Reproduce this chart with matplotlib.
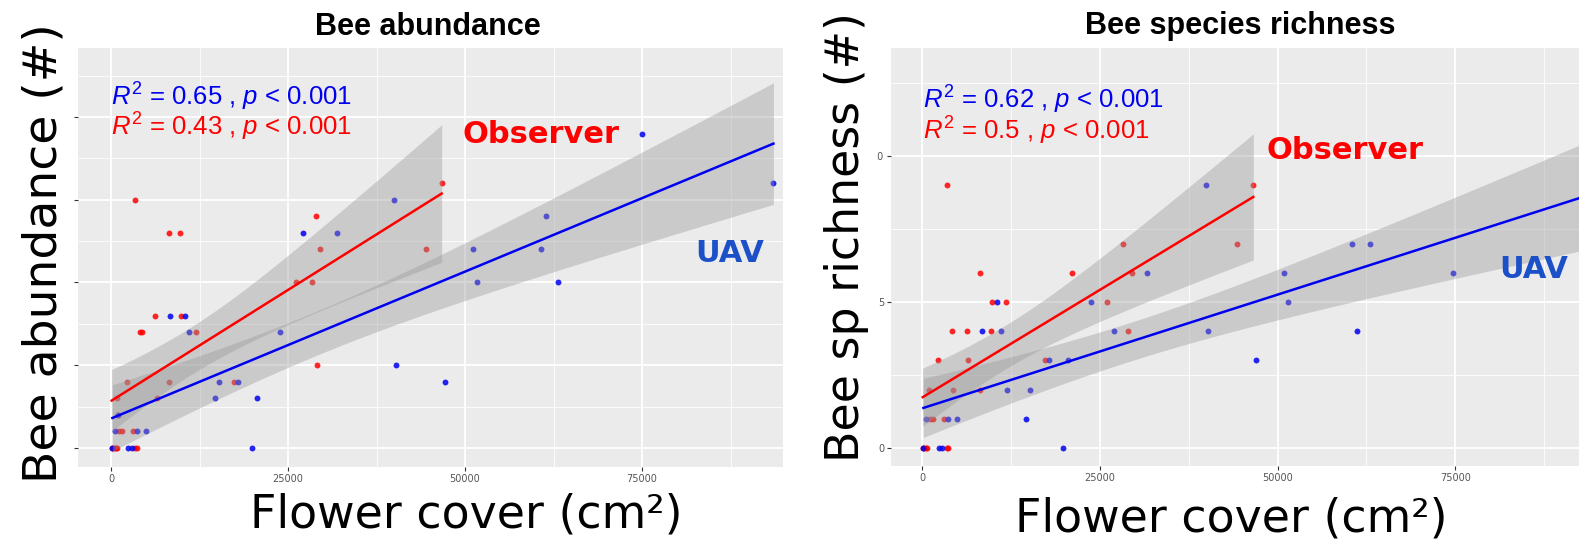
import numpy as np
import matplotlib
matplotlib.use('Agg')
import matplotlib.pyplot as plt
from matplotlib.patches import Rectangle

plt.rcParams['mathtext.fontset'] = 'custom'
plt.rcParams['mathtext.rm'] = 'Liberation Sans'
plt.rcParams['mathtext.it'] = 'Liberation Sans:italic'

# --- bee abundance (left panel) ---
obs_x_ab = [3390, 8190, 9750, 28950, 29520, 26130, 28390, 6260, 9840, 4100, 4400, 12000,
            29050, 2210, 8190, 17370, 890, 6450, 1040, 1180, 1510, 3150,
            100, 300, 500, 700, 900, 3390, 3630, 46700, 44450]
obs_y_ab = [15, 13, 13, 14, 12, 10, 10, 8, 8, 7, 7, 7,
            5, 4, 4, 4, 3, 3, 2, 1, 1, 1,
            0, 0, 0, 0, 0, 0, 0, 16, 12]
uav_x_ab = [200, 2450, 2920, 19870, 565, 3630, 4940, 1040, 14650, 20580, 15210, 17940,
            47170, 11020, 23870, 40250, 8330, 10500, 27070, 31870, 39970, 51690,
            63180, 51130, 60690, 61440, 93550, 75040]
uav_y_ab = [0, 0, 0, 0, 1, 1, 1, 2, 3, 3, 4, 4,
            4, 7, 7, 5, 8, 8, 13, 13, 15, 10,
            10, 12, 12, 14, 16, 19]

# --- bee species richness (right panel) ---
obs_x_ri = [3470, 28300, 8150, 21090, 29480, 9800, 11810, 26060, 4170, 6280, 9700, 28920,
            2300, 6510, 17290, 1030, 4310, 8150, 1120, 1550, 3140,
            100, 300, 500, 700, 3470, 3700, 46590, 44330]
obs_y_ri = [9, 7, 6, 6, 6, 5, 5, 5, 4, 4, 4, 4,
            3, 3, 3, 2, 2, 2, 1, 1, 1,
            0, 0, 0, 0, 0, 0, 9, 7]
uav_x_ri = [200, 2440, 2770, 19780, 560, 3700, 4970, 14620, 12000, 15180, 17900, 20570,
            46960, 8390, 11060, 27040, 40170, 61200, 10500, 23760, 51500, 31680,
            50940, 74700, 60460, 62950, 39930, 93500]
uav_y_ri = [0, 0, 0, 0, 1, 1, 1, 1, 2, 2, 3, 3,
            3, 4, 4, 4, 4, 4, 5, 5, 5, 6,
            6, 6, 7, 7, 9, 8]

stats_ab = [r'$R^2$ = 0.65 , $p$ < 0.001', r'$R^2$ = 0.43 , $p$ < 0.001']
stats_ri = [r'$R^2$ = 0.62 , $p$ < 0.001', r'$R^2$ = 0.5 , $p$ < 0.001']

RED = '#FF0000'
BLUE = '#0000F0'
LABEL_BLUE = '#1C50C8'

W, H = 1579, 544


def fx(px):
    return px / W


def fy(py):
    return 1 - py / H


def fit_band(x, y, n=120):
    # linear fit with 95% confidence band, like geom_smooth(method='lm')
    x = np.asarray(x, float)
    y = np.asarray(y, float)
    b, a = np.polyfit(x, y, 1)
    xs = np.linspace(x.min(), x.max(), n)
    fit = a + b * xs
    df = len(x) - 2
    s = np.sqrt(np.sum((y - (a + b * x)) ** 2) / df)
    se = s * np.sqrt(1 / len(x) + (xs - x.mean()) ** 2 / np.sum((x - x.mean()) ** 2))
    z = 1.959964
    t = z + (z ** 3 + z) / (4 * df) + (5 * z ** 5 + 16 * z ** 3 + 3 * z) / (96 * df ** 2)
    return xs, fit, fit - t * se, fit + t * se


def panel(ax, ox, oy, ux, uy, xlim, ylim, ymajor, yminor):
    ax.set_facecolor('#EBEBEB')
    for sp in ax.spines.values():
        sp.set_visible(False)
    ax.set_xticks([0, 25000, 50000, 75000])
    ax.set_xticks([12500, 37500, 62500, 87500], minor=True)
    ax.set_yticks(ymajor)
    ax.set_yticks(yminor, minor=True)
    ax.grid(which='major', color='white', lw=1.3)
    ax.grid(which='minor', color='white', lw=0.6)
    ax.set_axisbelow(True)
    ax.tick_params(which='major', length=3, width=0.8, color='#333333',
                   labelsize=7, labelcolor='#555555', pad=2)
    ax.tick_params(which='minor', length=0)

    ax.scatter(ox, oy, s=18, color=RED, alpha=0.85, lw=0, zorder=2)
    ax.scatter(ux, uy, s=18, color=BLUE, alpha=0.85, lw=0, zorder=2)
    for x, y, c in [(ox, oy, RED), (ux, uy, BLUE)]:
        xs, fit, lo, hi = fit_band(x, y)
        ax.fill_between(xs, lo, hi, color='#999999', alpha=0.4, lw=0, zorder=3)
    for x, y, c in [(ox, oy, RED), (ux, uy, BLUE)]:
        xs, fit, lo, hi = fit_band(x, y)
        ax.plot(xs, fit, color=c, lw=1.8, zorder=4)
    ax.set_xlim(*xlim)
    ax.set_ylim(*ylim)


fig = plt.figure(figsize=(W / 100, H / 100), dpi=100)

ax1 = fig.add_axes([fx(77.5), fy(467), (783 - 77.5) / W, (467 - 48) / H])
panel(ax1, obs_x_ab, obs_y_ab, uav_x_ab, uav_y_ab, (-4730, 94900), (-1.15, 24.17),
      [0, 5, 10, 15, 20], [2.5, 7.5, 12.5, 17.5, 22.5])
# the left y tick labels sit under the big axis label in the reference
ax1.set_yticklabels([])

ax2 = fig.add_axes([fx(891), fy(466), (W - 891) / W, (466 - 48) / H])
panel(ax2, obs_x_ri, obs_y_ri, uav_x_ri, uav_y_ri, (-4360, 92380), (-0.62, 13.7),
      [0, 5, 10], [2.5, 7.5, 12.5])

# white box behind the right y label hides part of its tick labels
fig.patches.append(Rectangle((fx(795), 0), fx(876) - fx(795), 1, transform=fig.transFigure,
                             color='white', zorder=1))

# titles
fig.text(fx(428), fy(35), 'Bee abundance', ha='center', va='baseline',
         family='Liberation Sans', weight='bold', fontsize=22)
fig.text(fx(1240), fy(34), 'Bee species richness', ha='center', va='baseline',
         family='Liberation Sans', weight='bold', fontsize=22)

# R2 annotations
for (px, py), txt, c in [((111, 106), stats_ab[0], BLUE), ((111, 136), stats_ab[1], RED),
                         ((923, 109), stats_ri[0], BLUE), ((923, 140), stats_ri[1], RED)]:
    fig.text(fx(px), fy(py), txt, color=c, family='Liberation Sans', fontsize=18.5,
             ha='left', va='baseline')

# group labels
for (px, py), txt, c in [((463, 143), 'Observer', RED), ((695, 262), 'UAV', LABEL_BLUE),
                         ((1266, 159), 'Observer', RED), ((1499, 278), 'UAV', LABEL_BLUE)]:
    fig.text(fx(px), fy(py), txt, color=c, family='DejaVu Sans', weight='bold',
             fontsize=22, ha='left', va='baseline')

# big axis labels
fig.text(fx(466), fy(527), 'Flower cover (cm²)', ha='center', va='baseline',
         family='DejaVu Sans', fontsize=33)
fig.text(fx(1231), fy(532), 'Flower cover (cm²)', ha='center', va='baseline',
         family='DejaVu Sans', fontsize=33)
fig.text(fx(56), fy(483), 'Bee abundance (#)', rotation=90, rotation_mode='anchor',
         ha='left', va='baseline', family='DejaVu Sans', fontsize=34)
fig.text(fx(859), fy(462), 'Bee sp richness (#)', rotation=90, rotation_mode='anchor',
         ha='left', va='baseline', family='DejaVu Sans', fontsize=33)

fig.savefig('out.png', dpi=100, facecolor='white')
